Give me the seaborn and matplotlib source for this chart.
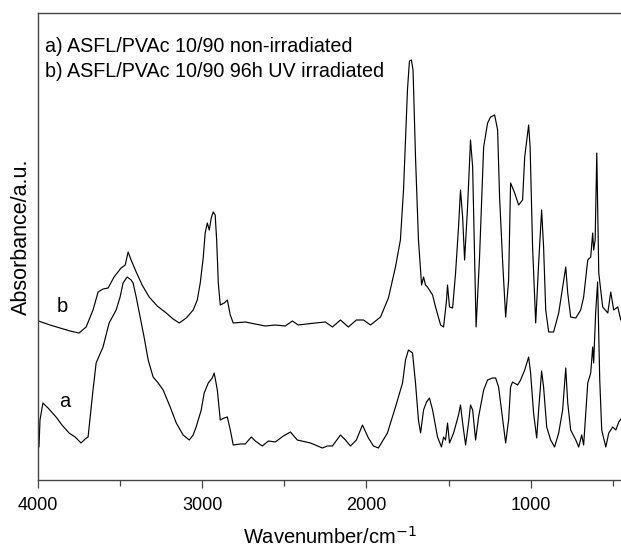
import numpy as np
import pandas as pd
import matplotlib
matplotlib.use("Agg")
import matplotlib.pyplot as plt
import seaborn as sns
from matplotlib.ticker import MultipleLocator

# spectrum b) 96h UV irradiated (wavenumber, absorbance a.u.)
wn_b = [3997, 3927, 3866, 3805, 3750, 3707, 3665, 3634, 3604, 3573, 3537, 3494,
        3469, 3451, 3433, 3402, 3366, 3323, 3274, 3219, 3177, 3140, 3097, 3055,
        3030, 3012, 2994, 2982, 2969, 2957, 2945, 2933, 2921, 2912, 2902, 2890,
        2866, 2847, 2829, 2811, 2738, 2677, 2616, 2555, 2494, 2451, 2415, 2311,
        2250, 2207, 2158, 2110, 2061, 2018, 1975, 1914, 1866, 1823, 1793, 1774,
        1762, 1750, 1738, 1726, 1716, 1701, 1683, 1664, 1652, 1640, 1628, 1597,
        1579, 1548, 1530, 1512, 1506, 1494, 1475, 1457, 1439, 1427, 1414, 1402,
        1384, 1366, 1353, 1341, 1332, 1311, 1286, 1262, 1244, 1219, 1201, 1189,
        1170, 1152, 1134, 1122, 1097, 1073, 1049, 1036, 1012, 1003, 988, 969,
        951, 933, 921, 908, 890, 860, 829, 805, 786, 774, 756, 725, 695, 677,
        652, 634, 622, 616, 607, 597, 585, 561, 530, 512, 494, 469, 451]
abs_b = [1.59, 1.55, 1.52, 1.49, 1.47, 1.53, 1.70, 1.88, 1.91, 1.92, 2.03, 2.12,
         2.15, 2.28, 2.20, 2.08, 1.95, 1.83, 1.74, 1.67, 1.61, 1.57, 1.62, 1.70,
         1.80, 1.97, 2.22, 2.47, 2.57, 2.50, 2.62, 2.68, 2.65, 2.40, 1.97, 1.75,
         1.77, 1.80, 1.65, 1.57, 1.58, 1.56, 1.54, 1.55, 1.54, 1.59, 1.55, 1.57,
         1.58, 1.53, 1.60, 1.53, 1.60, 1.60, 1.55, 1.63, 1.82, 2.13, 2.40, 2.90,
         3.40, 3.90, 4.19, 4.20, 4.10, 3.23, 2.40, 1.95, 2.03, 1.95, 1.93, 1.85,
         1.73, 1.55, 1.53, 1.80, 1.95, 1.73, 1.72, 2.07, 2.53, 2.90, 2.63, 2.20,
         2.73, 3.40, 3.13, 2.20, 1.53, 2.23, 3.33, 3.57, 3.63, 3.65, 3.50, 2.83,
         2.17, 1.63, 2.00, 2.97, 2.87, 2.75, 2.80, 3.23, 3.55, 3.33, 2.33, 1.57,
         2.17, 2.70, 2.33, 1.70, 1.48, 1.48, 1.67, 1.93, 2.13, 1.87, 1.63, 1.62,
         1.70, 1.83, 2.20, 2.23, 2.47, 2.30, 2.40, 3.27, 2.07, 1.73, 1.67, 1.88,
         1.70, 1.73, 1.60]

# spectrum a) non-irradiated
wn_a = [3994, 3988, 3970, 3939, 3890, 3854, 3811, 3774, 3738, 3713, 3695, 3665,
        3646, 3604, 3567, 3524, 3500, 3482, 3457, 3433, 3421, 3402, 3378, 3354,
        3329, 3299, 3268, 3238, 3195, 3158, 3116, 3079, 3055, 3037, 3006, 2988,
        2963, 2939, 2927, 2908, 2890, 2866, 2847, 2829, 2811, 2768, 2738, 2701,
        2677, 2634, 2597, 2555, 2506, 2463, 2421, 2341, 2268, 2238, 2207, 2158,
        2128, 2097, 2061, 2024, 1988, 1957, 1927, 1872, 1823, 1780, 1762, 1744,
        1719, 1701, 1683, 1670, 1652, 1634, 1616, 1597, 1567, 1543, 1530, 1518,
        1506, 1494, 1469, 1439, 1427, 1414, 1396, 1378, 1366, 1353, 1335, 1317,
        1286, 1262, 1232, 1213, 1195, 1170, 1152, 1134, 1122, 1110, 1079, 1061,
        1036, 1012, 1000, 982, 963, 951, 933, 921, 902, 878, 854, 829, 805, 786,
        774, 756, 725, 707, 689, 677, 652, 634, 622, 616, 604, 592, 579, 567,
        542, 524, 500, 481, 463, 445]
abs_a = [0.33, 0.60, 0.77, 0.72, 0.63, 0.55, 0.47, 0.43, 0.37, 0.41, 0.43, 0.90,
         1.17, 1.33, 1.57, 1.70, 1.83, 1.97, 2.03, 2.00, 1.97, 1.83, 1.63, 1.43,
         1.20, 1.03, 0.97, 0.90, 0.73, 0.57, 0.45, 0.40, 0.45, 0.53, 0.70, 0.87,
         0.97, 1.02, 1.07, 0.90, 0.60, 0.62, 0.63, 0.50, 0.35, 0.36, 0.36, 0.43,
         0.39, 0.34, 0.39, 0.38, 0.44, 0.48, 0.40, 0.37, 0.32, 0.34, 0.34, 0.45,
         0.40, 0.34, 0.40, 0.55, 0.42, 0.34, 0.32, 0.47, 0.73, 0.97, 1.20, 1.30,
         1.27, 0.97, 0.60, 0.47, 0.70, 0.78, 0.82, 0.70, 0.43, 0.33, 0.43, 0.40,
         0.57, 0.37, 0.47, 0.65, 0.75, 0.57, 0.35, 0.57, 0.75, 0.70, 0.40, 0.63,
         0.90, 1.00, 1.02, 1.02, 0.93, 0.60, 0.37, 0.60, 0.93, 0.98, 0.95, 1.00,
         1.10, 1.23, 1.07, 0.67, 0.42, 0.70, 1.09, 0.93, 0.53, 0.40, 0.33, 0.47,
         0.70, 1.12, 0.77, 0.50, 0.40, 0.33, 0.45, 0.35, 0.97, 1.07, 1.33, 1.17,
         1.67, 1.98, 1.00, 0.50, 0.33, 0.47, 0.53, 0.50, 0.58, 0.62]

legend_lines = ["a) ASFL/PVAc 10/90 non-irradiated",
                "b) ASFL/PVAc 10/90 96h UV irradiated"]

df_a = pd.DataFrame({"wn": wn_a, "A": abs_a})
df_b = pd.DataFrame({"wn": wn_b, "A": abs_b})

sns.set_style("ticks")
plt.rcParams["font.family"] = ["Liberation Sans", "DejaVu Sans"]
plt.rcParams["text.color"] = "black"
plt.rcParams["axes.labelcolor"] = "black"
plt.rcParams["xtick.labelcolor"] = "black"

fig = plt.figure(figsize=(6.21, 5.49), dpi=100)
ax = fig.add_axes([0.0612, 0.1257, 0.94, 0.8506])

sns.lineplot(data=df_b, x="wn", y="A", color="black", linewidth=0.85,
             estimator=None, sort=False, ax=ax)
sns.lineplot(data=df_a, x="wn", y="A", color="black", linewidth=0.85,
             estimator=None, sort=False, ax=ax)

ax.set_xlim(4000, 445)
ax.set_ylim(0, 4.67)
ax.set_yticks([])
ax.xaxis.set_major_locator(MultipleLocator(1000))
ax.xaxis.set_minor_locator(MultipleLocator(500))
ax.tick_params(axis="x", which="major", direction="out", length=6,
               width=0.9, color="#444444", labelsize=13, pad=6,
               labelcolor="black")
ax.tick_params(axis="x", which="minor", direction="out", length=4,
               width=0.9, color="#444444")

for side in ["left", "bottom", "top"]:
    ax.spines[side].set_color("#444444")
    ax.spines[side].set_linewidth(1.0)
ax.spines["right"].set_visible(False)

ax.set_xlabel("Wavenumber/cm$^{-1}$", fontsize=14.5, labelpad=9,
              color="black")
ax.set_ylabel("Absorbance/a.u.", fontsize=15.5, color="black")
ax.yaxis.set_label_coords(-0.011, 0.52)

ax.text(0.012, 0.929, legend_lines[0], transform=ax.transAxes,
        fontsize=14.2, va="center", ha="left", color="black")
ax.text(0.012, 0.874, legend_lines[1], transform=ax.transAxes,
        fontsize=14.2, va="center", ha="left", color="black")

ax.text(3850, 1.73, "b", fontsize=14.5, ha="center", va="center",
        color="black")
ax.text(3840, 0.78, "a", fontsize=14.5, ha="center", va="center",
        color="black")

fig.savefig("out.png", dpi=100)
